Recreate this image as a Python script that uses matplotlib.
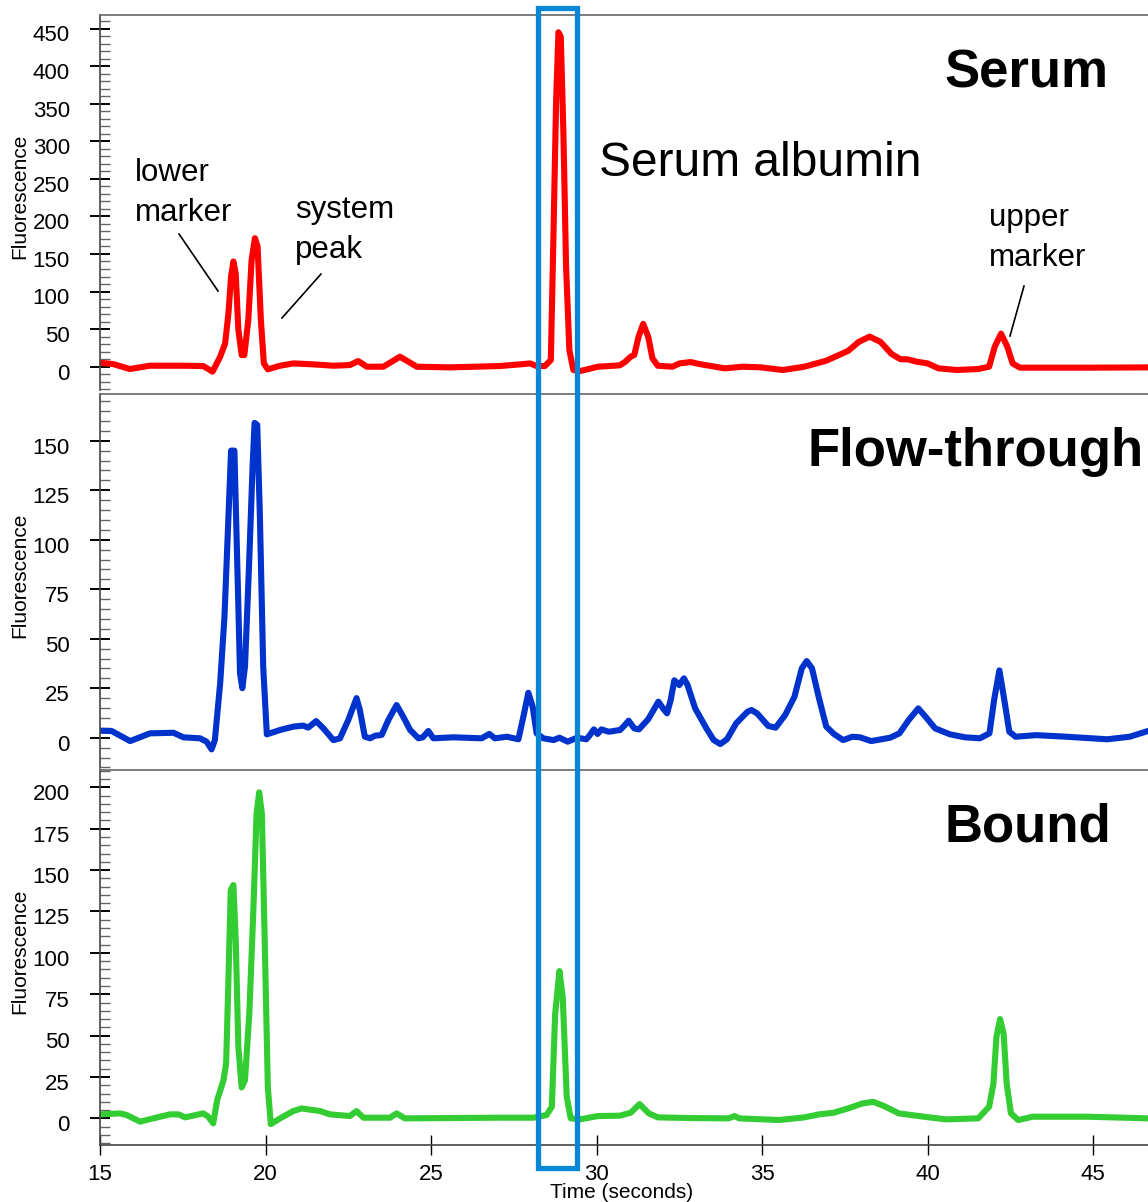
import matplotlib
matplotlib.use("Agg")
import matplotlib.pyplot as plt
from matplotlib.patches import Rectangle
from matplotlib.lines import Line2D
from matplotlib.ticker import MultipleLocator
import matplotlib.transforms as mtransforms

plt.rcParams['font.family'] = ['Liberation Sans', 'DejaVu Sans']

# ---------------- data (time in seconds, fluorescence) ----------------
serum_t = [15.0, 15.4, 15.9, 16.5, 17.5, 18.12, 18.4, 18.63, 18.78, 18.88, 18.96, 19.03, 19.10,
           19.18, 19.28, 19.36, 19.48, 19.58, 19.68, 19.76, 19.86, 19.95, 20.07, 20.44, 20.84,
           21.45, 22.05, 22.55, 22.8, 23.06, 23.56, 23.81, 24.06, 24.32, 24.57, 25.57, 27.08,
           27.79, 27.99, 28.19, 28.44, 28.62, 28.70, 28.78, 28.85, 28.92, 29.0, 29.08, 29.18,
           29.3, 29.5, 30.05, 30.7, 30.87, 31.03, 31.14, 31.27, 31.41, 31.56, 31.69, 31.85,
           32.29, 32.51, 32.84, 33.11, 33.88, 34.42, 34.97, 35.63, 36.28, 36.94, 37.6, 37.92,
           38.25, 38.58, 38.91, 39.18, 39.4, 39.68, 40.0, 40.33, 40.88, 41.53, 41.86, 42.03,
           42.22, 42.41, 42.57, 42.79, 44.82, 46.66]
serum_v = [5.3, 3.5, -3.1, 1.3, 1.3, 0.9, -6.6, 13.3, 31, 71, 120, 140, 124,
           49, 15.5, 15.5, 62, 142, 171, 160, 62, 4.4, -3.5, 1.3, 4.4,
           3.1, 1.3, 2.2, 7.5, 0, 0, 6.6, 13.3, 6.6, 0, -0.9, 0.9,
           3.5, 4.4, 0.9, 0.9, 8.9, 177, 355, 445, 439, 310, 133, 22,
           -4.4, -5.8, 0, 1.8, 6.6, 13.3, 15.5, 40, 57, 40, 11, 1.3,
           0, 4.4, 6.2, 3.5, -2.2, 0, -0.9, -4.4, 0, 8, 21, 33,
           40, 33, 17, 10, 9.8, 6.6, 4.4, -2.2, -4.4, -3.1, 0, 26.6,
           44, 26.6, 4.4, -1.3, -1.3, -0.9]

flow_t = [15.0, 15.35, 15.91, 16.51, 17.22, 17.52, 18.02, 18.22, 18.37, 18.47, 18.63, 18.76,
          18.86, 18.96, 19.06, 19.15, 19.23, 19.30, 19.38, 19.5, 19.61, 19.67, 19.75, 19.83,
          19.93, 20.04, 20.44, 20.84, 21.14, 21.29, 21.53, 21.75, 22.05, 22.25, 22.5, 22.75,
          22.85, 23.0, 23.16, 23.31, 23.51, 23.71, 23.96, 24.16, 24.37, 24.62, 24.75, 24.92,
          25.07, 25.67, 26.53, 26.76, 26.93, 27.29, 27.64, 27.79, 27.94, 28.07, 28.19, 28.39,
          28.70, 28.88, 29.13, 29.41, 29.69, 29.78, 29.92, 30.03, 30.15, 30.37, 30.71, 30.83,
          30.97, 31.14, 31.28, 31.56, 31.87, 32.01, 32.13, 32.24, 32.35, 32.5, 32.64, 32.75,
          32.98, 33.32, 33.54, 33.74, 33.94, 34.22, 34.56, 34.68, 34.85, 35.19, 35.41, 35.7,
          35.98, 36.2, 36.35, 36.51, 36.71, 36.94, 37.17, 37.45, 37.73, 37.96, 38.3, 38.87,
          39.15, 39.43, 39.72, 39.94, 40.23, 40.68, 41.13, 41.58, 41.87, 42.01, 42.17, 42.32,
          42.47, 42.66, 43.28, 44.19, 45.43, 46.11, 46.66]
flow_v = [3.5, 3.4, -1.7, 2.2, 2.5, 0.2, -0.3, -2.0, -5.9, -1.2, 27.5, 61,
          103, 145, 145, 86, 32.5, 25, 36, 86, 137, 159, 158, 112,
          36, 1.7, 3.9, 5.6, 6.1, 5.1, 8.4, 4.7, -1.2, -0.3, 8.9, 20,
          14, 0.5, -0.3, 1, 1.4, 8.9, 16.5, 10.6, 3.9, -0.3, 0.2, 3.4,
          -0.3, 0.2, -0.3, 1.9, -0.3, 0.5, -0.8, 10.6, 22.7, 15.7, 2.2, -0.3,
          -1.2, 0, -2.0, 0, -0.8, 0.9, 4.2, 1.9, 4.2, 3.0, 3.9, 5.9,
          8.6, 4.7, 4.2, 9.3, 18.2, 14.8, 12.3, 19, 29, 26.6, 30, 26.6,
          14.8, 4.7, -1.2, -3.2, -0.8, 7.3, 13.1, 14, 12.3, 5.9, 5.1, 11.5,
          20.7, 35, 38.7, 35, 20.7, 5.6, 1.9, -1.2, 0.5, 0.2, -1.7, 0,
          2.2, 8.9, 14.8, 10.6, 4.7, 1.7, 0.2, -0.3, 2.2, 19, 34, 19,
          3.0, 0.5, 1.3, 0.5, -0.8, 0.5, 3.4]

bound_t = [15.0, 15.6, 15.81, 16.21, 16.61, 17.11, 17.37, 17.57, 18.12, 18.27, 18.42, 18.54,
           18.73, 18.81, 18.88, 18.95, 19.03, 19.1, 19.18, 19.28, 19.38, 19.51, 19.63, 19.73,
           19.81, 19.89, 19.98, 20.07, 20.16, 20.44, 20.84, 21.09, 21.65, 21.95, 22.55, 22.75,
           22.96, 23.76, 23.96, 24.21, 27.08, 28.09, 28.49, 28.65, 28.75, 28.88, 28.98, 29.1,
           29.22, 29.5, 30.05, 30.7, 31.03, 31.3, 31.58, 31.85, 32.78, 33.99, 34.17, 34.31,
           35.52, 36.28, 36.72, 37.16, 37.6, 38.03, 38.36, 38.69, 39.13, 39.89, 40.55, 41.53,
           41.86, 41.99, 42.08, 42.19, 42.3, 42.39, 42.52, 42.74, 43.18, 44.82, 46.66]
bound_v = [2.4, 3.0, 2.0, -2.0, 0, 2.4, 2.4, 0.6, 3.0, 1.0, -3.0, 11,
           23, 33, 84, 138, 141, 108, 43, 18.7, 23, 63, 124, 184,
           197, 184, 104, 19, -3.5, 0, 4.4, 6.0, 4.4, 2.4, 1.4, 4.4,
           0.4, 0.4, 3.0, 0, 0.4, 0.4, 2.0, 7.0, 63, 89, 73, 13,
           0, -0.6, 1.4, 1.6, 3.4, 8.6, 3.0, 0.6, 0.2, 0, 1.4, 0,
           -1.0, 0.6, 2.4, 3.4, 6.0, 9.0, 10, 7.4, 3.0, 1.0, -0.6, 0,
           7.0, 21, 49, 60, 51, 21, 3.0, -1.0, 1.0, 1.0, 0]

panel_names = ["Serum", "Flow-through", "Bound"]
panel_colors = ["#ff0000", "#0033cc", "#33cc33"]
y_major = [50, 25, 25]
y_minor = [10, 5, 5]
y_limits = [(-31, 468), (-15.3, 173.6), (-16.1, 210.5)]
x_ticks = [15, 20, 25, 30, 35, 40, 45]
x_limits = (15, 46.66)
albumin_window = (28.23, 29.41)

W, H = 1148, 1202
fig = plt.figure(figsize=(W / 100, H / 100), dpi=100)

def fx(px):
    return px / W

def fy(py):
    return 1 - py / H

# axes boxes (pixel top, pixel bottom)
boxes = [(15, 390), (394, 768), (770, 1145)]
left_px = 100
axes = []
for (top, bot) in boxes:
    ax = fig.add_axes([fx(left_px), fy(bot), 1 - fx(left_px), (bot - top) / H])
    axes.append(ax)

series = [(serum_t, serum_v), (flow_t, flow_v), (bound_t, bound_v)]
for i, ax in enumerate(axes):
    t, v = series[i]
    ax.plot(t, v, color=panel_colors[i], lw=4.4, solid_joinstyle='round', solid_capstyle='round')
    ax.set_xlim(*x_limits)
    ax.set_ylim(*y_limits[i])
    ax.yaxis.set_major_locator(MultipleLocator(y_major[i]))
    ax.yaxis.set_minor_locator(MultipleLocator(y_minor[i]))
    ax.tick_params(axis='y', which='major', direction='inout', length=14.4, width=1.4,
                   color='black', labelsize=16, pad=14.5)
    ax.tick_params(axis='y', which='minor', direction='in', length=7.2, width=1.0,
                   color='#666666')
    ax.spines['right'].set_visible(False)
    ax.spines['left'].set_color('#444444')
    ax.spines['left'].set_linewidth(1.2)
    ax.spines['top'].set_color('#666666')
    ax.spines['top'].set_linewidth(1.2)
    ax.spines['bottom'].set_color('#444444')
    ax.spines['bottom'].set_linewidth(1.2)
    ax.patch.set_alpha(0)
    yt = [y for y in ax.get_yticks() if 0 <= y <= y_limits[i][1]]
    ax.set_yticks(yt)
    if i < 2:
        ax.spines['bottom'].set_visible(False)
        ax.tick_params(axis='x', which='both', bottom=False, labelbottom=False)
    else:
        ax.set_xticks(x_ticks)
        ax.tick_params(axis='x', which='major', direction='inout', length=14.4, width=1.0,
                       labelsize=16, pad=6.5)

# y labels
for (top, bot) in boxes:
    fig.text(fx(20), fy((top + bot) / 2 - 6), "Fluorescence", rotation=90,
             ha='center', va='center', fontsize=15)

fig.text(fx(622), fy(1192), "Time (seconds)", ha='center', va='center', fontsize=15)

# panel titles
fig.text(fx(944), fy(74), "Serum", ha='left', va='center', fontsize=38, fontweight='bold')
fig.text(fx(807), fy(452), "Flow-through", ha='left', va='center', fontsize=38, fontweight='bold')
fig.text(fx(944), fy(828), "Bound", ha='left', va='center', fontsize=38, fontweight='bold')

fig.text(fx(599), fy(163), "Serum albumin", ha='left', va='center', fontsize=34.5)

# annotations
fig.text(fx(135), fy(193), "lower\nmarker", ha='left', va='center', fontsize=22.5, linespacing=1.4)
fig.text(fx(295), fy(230), "system\npeak", ha='left', va='center', fontsize=22.5, linespacing=1.4)
fig.text(fx(989), fy(238), "upper\nmarker", ha='left', va='center', fontsize=22.5, linespacing=1.4)

for (x0, y0, x1, y1) in [(179, 234, 218, 291), (321, 274, 282, 318), (1024, 286, 1010, 336)]:
    fig.add_artist(Line2D([fx(x0), fx(x1)], [fy(y0), fy(y1)], color='black', lw=1.2))

# albumin highlight box spanning all panels
trans = mtransforms.blended_transform_factory(axes[2].transData, fig.transFigure)
rect = Rectangle((albumin_window[0], fy(1168)), albumin_window[1] - albumin_window[0],
                 fy(8) - fy(1168), transform=trans, fill=False, edgecolor='#0786d6',
                 lw=3.8, zorder=10)
fig.add_artist(rect)

# y tick labels sit slightly below their ticks in the reference
fig.canvas.draw()
offset = mtransforms.ScaledTranslation(0, -3.5 / 72, fig.dpi_scale_trans)
for ax in axes:
    for tk in ax.yaxis.get_major_ticks():
        tk.label1.set_transform(tk.label1.get_transform() + offset)

fig.savefig("out.png", dpi=100)
